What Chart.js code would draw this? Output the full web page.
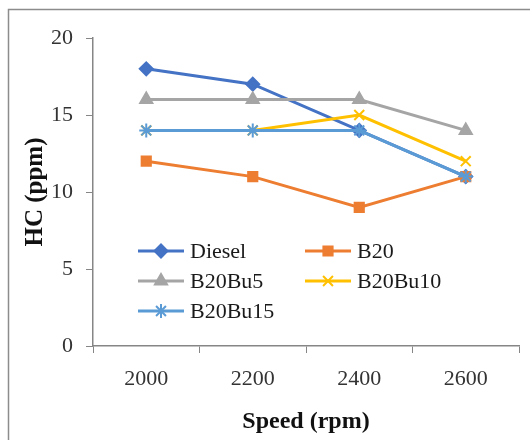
<!DOCTYPE html>
<html><head><meta charset="utf-8">
<script src="https://cdn.jsdelivr.net/npm/chart.js@4"></script>
<style>html,body{margin:0;padding:0;background:#fff}#wrap{width:530px;height:440px}</style>
</head><body><div id="wrap"><canvas id="c" width="530" height="440"></canvas></div>
<script>
const categories = ["2000", "2200", "2400", "2600"];
const diesel  = [18, 17, 14, 11];
const b20     = [12, 11, 9, 11];
const b20bu5  = [16, 16, 16, 14];
const b20bu10 = [14, 14, 15, 12];
const b20bu15 = [14, 14, 14, 11];
const yTicks  = [0, 5, 10, 15, 20];
const xTitle = "Speed (rpm)";
const yTitle = "HC (ppm)";

const serif = "'Liberation Serif','Times New Roman',serif";

function ds(label, data, color, style, radius, order) {
  return {label, data, borderColor: color, backgroundColor: color, pointStyle: style,
    pointRadius: radius, pointHoverRadius: radius, borderWidth: 3, pointBorderWidth: 2, order};
}
const datasets = [
  ds("Diesel", diesel, "#4472C4", "rectRot", 6.5, 5),
  ds("B20", b20, "#ED7D31", "rect", 6.5, 4),
  ds("B20Bu5", b20bu5, "#A5A5A5", "triangle", 7, 3),
  ds("B20Bu10", b20bu10, "#FFC000", "crossRot", 7, 2),
  ds("B20Bu15", b20bu15, "#5B9BD5", "star", 7, 1)
];

const framePlugin = {
  id: 'frame',
  beforeDraw(chart) {
    const ctx = chart.ctx;
    ctx.save();
    ctx.fillStyle = '#fff';
    ctx.fillRect(0, 0, chart.width, chart.height);
    ctx.strokeStyle = '#8c8c8c';
    ctx.lineWidth = 1.5;
    ctx.strokeRect(8.5, 9.5, 600, 600);
    ctx.restore();
  }
};

const legendPlugin = {
  id: 'customLegend',
  afterDraw(chart) {
    const ctx = chart.ctx;
    const cols = [138, 305];
    const rows = [251, 281, 311];
    ctx.save();
    chart.data.datasets.forEach((d, i) => {
      const x = cols[i % 2], y = rows[Math.floor(i / 2)];
      ctx.strokeStyle = d.borderColor;
      ctx.lineWidth = 3;
      ctx.beginPath(); ctx.moveTo(x, y); ctx.lineTo(x + 46, y); ctx.stroke();
      ctx.fillStyle = d.backgroundColor;
      ctx.lineWidth = 2;
      Chart.helpers.drawPoint(ctx, {pointStyle: d.pointStyle, radius: d.pointRadius, rotation: 0, borderWidth: 2}, x + 23, y);
      ctx.fillStyle = '#1a1a1a';
      ctx.font = "22px " + serif;
      ctx.textBaseline = 'middle';
      ctx.textAlign = 'left';
      ctx.fillText(d.label, x + 52, y + 1);
    });
    ctx.restore();
  }
};

new Chart(document.getElementById('c'), {
  type: 'line',
  data: {labels: categories, datasets},
  plugins: [framePlugin, legendPlugin],
  options: {
    responsive: false,
    animation: false,
    layout: {padding: {top: 38, right: 11, left: 0, bottom: 0}},
    plugins: {legend: {display: false}, tooltip: {enabled: false}},
    scales: {
      x: {
        offset: true,
        grid: {offset: true, drawOnChartArea: false, color: '#868686', tickLength: 7, tickColor: '#868686'},
        border: {color: '#868686', width: 1.5},
        ticks: {color: '#333', font: {family: serif, size: 22}, padding: 13},
        title: {display: true, text: xTitle, color: '#111', font: {family: serif, size: 24, weight: 'bold'}, padding: {top: 0, bottom: 4}},
        afterFit(s) { s.height = 94; }
      },
      y: {
        min: 0, max: 20,
        afterBuildTicks(s) { s.ticks = yTicks.map(v => ({value: v})); },
        grid: {drawOnChartArea: false, color: '#868686', tickLength: 7, tickColor: '#868686'},
        border: {color: '#868686', width: 1.5},
        ticks: {color: '#333', font: {family: serif, size: 22}, padding: 13},
        title: {display: true, text: yTitle, color: '#111', font: {family: serif, size: 25, weight: 'bold'}, padding: {top: 21}},
        afterFit(s) { s.width = 93; }
      }
    }
  }
});
</script>
</body></html>
